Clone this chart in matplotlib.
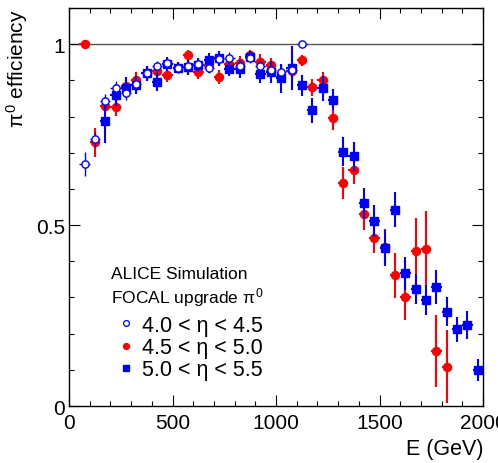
import matplotlib
matplotlib.use("Agg")
import matplotlib.pyplot as plt
from matplotlib.lines import Line2D
from matplotlib.ticker import MultipleLocator

plt.rcParams['font.family'] = ['Liberation Sans', 'DejaVu Sans']
plt.rcParams['mathtext.fontset'] = 'custom'
plt.rcParams['mathtext.rm'] = 'Liberation Sans'
plt.rcParams['mathtext.it'] = 'Liberation Sans'
plt.rcParams['mathtext.bf'] = 'Liberation Sans:bold'

# ---- data ----
labels = ["4.0 < η < 4.5", "4.5 < η < 5.0", "5.0 < η < 5.5"]

E_a = [75, 125, 175, 225, 275, 325, 375, 425, 475, 525, 575, 625, 675, 725,
       775, 825, 875, 925, 975, 1025, 1075, 1125]
eff_a = [0.668, 0.737, 0.842, 0.879, 0.865, 0.89, 0.92, 0.939, 0.948, 0.935,
         0.94, 0.945, 0.934, 0.958, 0.963, 0.94, 0.962, 0.94, 0.93, 0.924,
         0.93, 1.0]
err_a = [0.033, 0.02, 0.02, 0.02, 0.02, 0.02, 0.02, 0.015, 0.015, 0.015,
         0.015, 0.015, 0.015, 0.015, 0.015, 0.015, 0.015, 0.015, 0.02, 0.02,
         0.02, 0.0]

E_b = [75, 125, 175, 225, 275, 325, 375, 425, 475, 525, 575, 625, 675, 725,
       775, 825, 875, 925, 975, 1025, 1075, 1125, 1175, 1225, 1275, 1325,
       1375, 1425, 1475, 1525, 1575, 1625, 1675, 1725, 1775, 1825]
eff_b = [1.0, 0.729, 0.830, 0.827, 0.884, 0.902, 0.92, 0.925, 0.915, 0.935,
         0.969, 0.923, 0.94, 0.909, 0.946, 0.948, 0.970, 0.952, 0.942, 0.91,
         0.925, 0.955, 0.881, 0.901, 0.796, 0.616, 0.651, 0.532, 0.464, 0.44,
         0.361, 0.300, 0.428, 0.433, 0.152, 0.109]
err_b = [0.0, 0.04, 0.025, 0.025, 0.02, 0.02, 0.02, 0.02, 0.02, 0.015,
         0.015, 0.02, 0.02, 0.02, 0.02, 0.02, 0.015, 0.02, 0.02, 0.02,
         0.02, 0.015, 0.024, 0.022, 0.034, 0.045, 0.037, 0.046, 0.04, 0.05,
         0.063, 0.062, 0.093, 0.107, 0.10, 0.10]

E_c = [175, 225, 275, 325, 375, 425, 475, 525, 575, 625, 675, 725, 775, 825,
       875, 925, 975, 1025, 1075, 1125, 1175, 1225, 1275, 1325, 1375, 1425,
       1475, 1525, 1575, 1625, 1675, 1725, 1775, 1825, 1875, 1925, 1975]
eff_c = [0.789, 0.859, 0.880, 0.886, 0.919, 0.896, 0.945, 0.935, 0.936, 0.943,
         0.957, 0.961, 0.931, 0.932, 0.965, 0.917, 0.923, 0.906, 0.934, 0.887,
         0.817, 0.878, 0.847, 0.703, 0.690, 0.560, 0.511, 0.437, 0.543, 0.367,
         0.324, 0.293, 0.329, 0.261, 0.212, 0.224, 0.100]
err_c = [0.062, 0.03, 0.03, 0.025, 0.02, 0.025, 0.02, 0.015, 0.02, 0.02,
         0.02, 0.02, 0.02, 0.025, 0.015, 0.025, 0.03, 0.04, 0.06, 0.029,
         0.035, 0.034, 0.03, 0.04, 0.04, 0.043, 0.045, 0.05, 0.048, 0.045,
         0.042, 0.041, 0.046, 0.039, 0.035, 0.039, 0.03]

bin_half = 25

fig = plt.figure(figsize=(4.98, 4.64), dpi=100)
ax = fig.add_axes([0.1386, 0.1228, 0.8313, 0.8578])

ax.axhline(1.0, color='#555555', lw=1.0, zorder=1)

red = '#ff0000'
blue = '#0000ff'

ax.errorbar(E_b, eff_b, yerr=err_b, xerr=bin_half, fmt='o', color=red,
            ms=5.8, elinewidth=1.5, capsize=0, mec=red, mfc=red, zorder=3)
ax.errorbar(E_c, eff_c, yerr=err_c, xerr=bin_half, fmt='s', color=blue,
            ms=6.2, elinewidth=1.5, capsize=0, mec=blue, mfc=blue, zorder=4)
ax.errorbar(E_a, eff_a, yerr=err_a, xerr=bin_half, fmt='o', color=blue,
            ms=5.2, mfc='white', mec=blue, mew=1.0, elinewidth=1.0,
            capsize=0, zorder=5)

ax.set_xlim(0, 2000)
ax.set_ylim(0, 1.1)
ax.xaxis.set_major_locator(MultipleLocator(500))
ax.xaxis.set_minor_locator(MultipleLocator(100))
ax.yaxis.set_major_locator(MultipleLocator(0.5))
ax.yaxis.set_minor_locator(MultipleLocator(0.1))
ax.set_yticklabels([])
ax.set_yticks([0, 0.5, 1.0])
ax.set_yticklabels(['0', '0.5', '1'])
ax.set_xticks([0, 500, 1000, 1500, 2000])
ax.set_xticklabels(['0', '500', '1000', '1500', '2000'])

ax.tick_params(which='both', direction='in', top=True, right=True,
               colors='black', labelsize=15)
ax.tick_params(which='major', length=8, width=0.8)
ax.tick_params(which='minor', length=3.8, width=0.8)
ax.tick_params(axis='x', which='major', pad=5)
ax.tick_params(axis='y', which='major', pad=3)
for sp in ax.spines.values():
    sp.set_linewidth(1.0)

ax.set_xlabel('E (GeV)', fontsize=15.5, loc='right')
ax.set_ylabel(r'$\pi^{0}$ efficiency', fontsize=15, loc='top')

# legend
fig.text(111 / 498, 1 - 275 / 464, 'ALICE Simulation', fontsize=12.5,
         va='center', ha='left')
fig.text(111 / 498, 1 - 298 / 464, r'FOCAL upgrade $\pi^{0}$', fontsize=12.5,
         va='center', ha='left')

handles = [
    Line2D([], [], ls='none', marker='o', ms=4.2, mfc='white', mec=blue, mew=0.9),
    Line2D([], [], ls='none', marker='o', ms=4.2, mfc=red, mec=red),
    Line2D([], [], ls='none', marker='s', ms=4.2, mfc=blue, mec=blue),
]
leg = ax.legend(handles, labels, loc='upper left', frameon=False,
                fontsize=15.5, handlelength=0.8, handletextpad=0.35,
                labelspacing=0.05, borderpad=0, borderaxespad=0,
                bbox_to_anchor=(117 / 498, 1 - 316 / 464),
                bbox_transform=fig.transFigure)

fig.savefig('out.png', dpi=100)
